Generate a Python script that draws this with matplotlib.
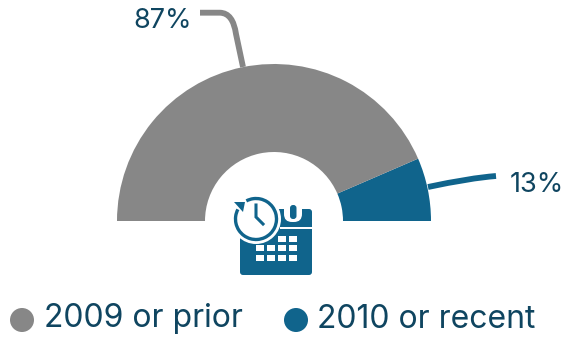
import matplotlib
matplotlib.use("Agg")
import matplotlib.pyplot as plt
from matplotlib.patches import Circle, FancyBboxPatch, Rectangle, PathPatch, Arc, Polygon
from matplotlib.path import Path

categories = ["2010 or recent", "2009 or prior"]
shares = [13, 87]
legend_order = ["2009 or prior", "2010 or recent"]

GRAY = "#878787"
BLUE = "#10648c"
TEXT = "#0f4560"
FONT = "Inter"

fig = plt.figure(figsize=(5.63, 3.38), dpi=100, facecolor="white")
ax = fig.add_axes([0, 0, 1, 1])

# half donut, the hidden third slice takes up the lower half (y axis is flipped below)
ax.pie(shares + [sum(shares)], startangle=0, counterclock=False, radius=157, center=(274, 221), frame=True,
       colors=[BLUE, GRAY, "none"], wedgeprops={"width": 88, "linewidth": 0})
ax.set_xlim(0, 563)
ax.set_ylim(338, 0)
ax.set_aspect("auto")
ax.axis("off")

# leader lines
gray_line = Path([(200, 12.7), (220, 12.7), (233, 13), (236, 34), (243, 67)],
                 [Path.MOVETO, Path.LINETO, Path.CURVE3, Path.CURVE3, Path.LINETO])
ax.add_patch(PathPatch(gray_line, fill=False, ec=GRAY, lw=4.2, capstyle="butt"))
blue_line = Path([(428, 187), (470, 178), (496, 176)],
                 [Path.MOVETO, Path.CURVE3, Path.CURVE3])
ax.add_patch(PathPatch(blue_line, fill=False, ec=BLUE, lw=4.2, capstyle="butt"))

ax.text(133, 21, f"{shares[1]}%", fontsize=19.5, color=TEXT, family=FONT, va="center", ha="left")
ax.text(510, 185.5, f"{shares[0]}%", fontsize=19.5, color=TEXT, family=FONT, va="center", ha="left")

# calendar body
ax.add_patch(FancyBboxPatch((242, 211), 68, 62, boxstyle="round,pad=2,rounding_size=3", fc=BLUE, ec="none"))
ax.add_patch(Rectangle((280, 227), 32, 1.6, fc="white", ec="none"))
ax.add_patch(FancyBboxPatch((284, 200), 18, 22, boxstyle="round,pad=0,rounding_size=8", fc="white", ec="none"))
ax.add_patch(FancyBboxPatch((290, 205), 6.5, 14, boxstyle="round,pad=0,rounding_size=3", fc=BLUE, ec="none"))
for cx in [278, 289]:
    ax.add_patch(Rectangle((cx, 236), 7.5, 6, fc="white", ec="none"))
for cy in [245, 255]:
    for cx in [256, 267, 278, 289]:
        ax.add_patch(Rectangle((cx, cy), 7.5, 6, fc="white", ec="none"))

# clock with the turning arrow
ax.add_patch(Circle((256, 219), 25, fc="white", ec="none"))
ax.add_patch(Arc((256, 219), 41, 41, theta1=-118, theta2=208, ec=BLUE, lw=2.4))
ax.add_patch(Polygon([(234, 202), (245, 202), (243, 212)], fc=BLUE, ec="none"))
ax.plot([256, 256, 263], [205, 217, 224], color=BLUE, lw=2.2, solid_joinstyle="miter")

# legend row
for x, tx, name, color in zip([22, 296], [44, 317], legend_order, [GRAY, BLUE]):
    ax.add_patch(Circle((x, 320), 12, fc=color, ec="none"))
    ax.text(tx, 319, name, fontsize=23, color=TEXT, family=FONT, va="center", ha="left")

fig.savefig("out.png", dpi=100)
